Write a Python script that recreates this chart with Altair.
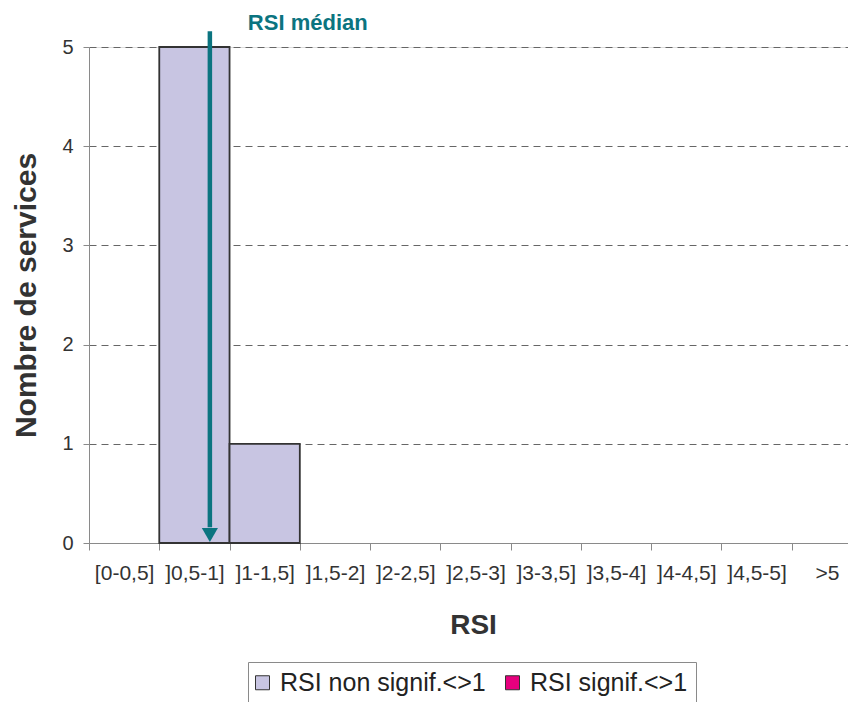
import altair as alt
import pandas as pd

# ---- data ----
categories = ["[0-0,5]", "]0,5-1]", "]1-1,5]", "]1,5-2]", "]2-2,5]", "]2,5-3]",
              "]3-3,5]", "]3,5-4]", "]4-4,5]", "]4,5-5]", ">5"]
non_signif = [0, 5, 1, 0, 0, 0, 0, 0, 0, 0, 0]
signif = [0, 0, 0, 0, 0, 0, 0, 0, 0, 0, 0]
series_names = ["RSI non signif.<>1", "RSI signif.<>1"]
series_colors = ["#C8C5E2", "#E6007E"]
y_ticks = [0, 1, 2, 3, 4, 5]
median_rsi = 0.86          # position of the "RSI médian" arrow on the RSI scale
rsi_extent = [0, 5.5]      # 11 bins of width 0.5
median_label = "RSI médian"
y_title = "Nombre de services"

rows = []
for c, a, b in zip(categories, non_signif, signif):
    rows.append({"cat": c, "series": series_names[0], "count": a})
    rows.append({"cat": c, "series": series_names[1], "count": b})
df = pd.DataFrame(rows)

teal = "#0B7480"
grey = "#8a8a8a"
text_col = "#333333"

yscale = alt.Scale(domain=[0, 5], nice=False)
xq = alt.Scale(domain=rsi_extent, nice=False, zero=False)

yaxis = alt.Axis(title=y_title, values=y_ticks, format="d",
                 labelFontSize=20, labelColor=text_col, labelPadding=10, tickSize=6,
                 domainColor=grey, tickColor=grey,
                 grid=True, gridDash=[7, 5], gridColor="#666666", gridWidth=1,
                 titleFontSize=30, titleFontWeight="bold", titleColor=text_col,
                 titleX=-63, titleBaseline="middle")

bars = alt.Chart(df).transform_filter("datum.count > 0").mark_bar(
    stroke="#333333", strokeWidth=1.8, opacity=1
).encode(
    x=alt.X("cat:N", sort=categories,
            scale=alt.Scale(domain=categories, paddingInner=0, paddingOuter=0),
            axis=alt.Axis(title="RSI", labelAngle=0, labelFontSize=21, labelColor=text_col,
                          labelPadding=12, tickSize=7, tickBand="extent", labelOverlap=False,
                          domainColor=grey, tickColor=grey, grid=False,
                          titleFontSize=28, titleFontWeight="bold", titleColor=text_col,
                          titleX=384, titleY=82, titleBaseline="middle")),
    y=alt.Y("count:Q", stack=True, scale=yscale, title=y_title, axis=yaxis),
    color=alt.Color("series:N",
                    scale=alt.Scale(domain=series_names, range=series_colors),
                    legend=alt.Legend(title=None, orient="none", legendX=159, legendY=615,
                                      direction="horizontal", columns=2,
                                      strokeColor=grey, fillColor="white", padding=8,
                                      symbolType="square", symbolSize=196,
                                      symbolStrokeColor="#333333", symbolStrokeWidth=1,
                                      symbolOpacity=1, symbolOffset=-6,
                                      labelFontSize=25, labelColor="#222222",
                                      labelOffset=5, columnPadding=17, labelLimit=0)),
)

arrow_df = pd.DataFrame({"x": [median_rsi], "top": [5.16], "bottom": [0.16],
                         "tip": [0.08], "lab": [5.17], "txt": [median_label]})

shaft = alt.Chart(arrow_df).mark_rule(color=teal, strokeWidth=4.5).encode(
    x=alt.X("x:Q", scale=xq, axis=None),
    y=alt.Y("top:Q", scale=yscale, title=y_title, axis=yaxis),
    y2="bottom:Q",
)
head = alt.Chart(arrow_df).mark_point(shape="triangle-down", filled=True, size=260,
                                      color=teal, opacity=1).encode(
    x=alt.X("x:Q", scale=xq, axis=None),
    y=alt.Y("tip:Q", scale=yscale, title=y_title, axis=yaxis),
)
label = alt.Chart(arrow_df).mark_text(align="left", baseline="alphabetic", dx=38,
                                      fontSize=22, fontWeight="bold", color=teal).encode(
    x=alt.X("x:Q", scale=xq, axis=None),
    y=alt.Y("lab:Q", scale=yscale, title=y_title, axis=yaxis),
    text="txt:N",
)

chart = alt.layer(bars, shaft, head, label).resolve_scale(x="independent").properties(
    width=773, height=496,
    autosize=alt.AutoSizeParams(type="none"),
    padding={"left": 81, "top": 39, "right": -14, "bottom": 159},
).configure_view(stroke=None).configure(font="Liberation Sans")

chart.save("out.html", embed_options={"renderer": "svg", "actions": False})
